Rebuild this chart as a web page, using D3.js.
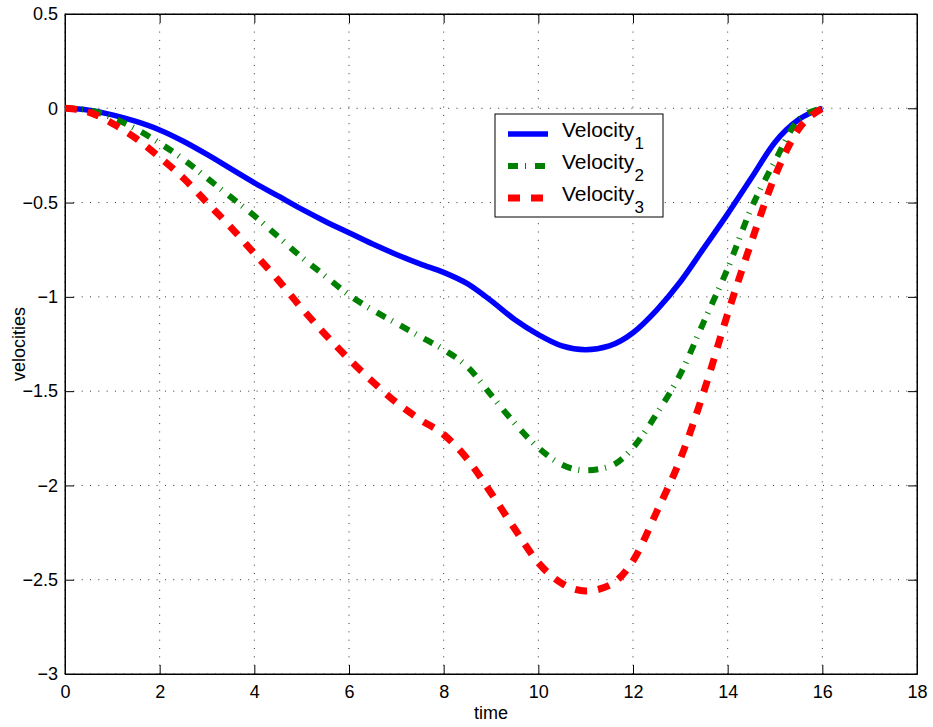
<!DOCTYPE html>
<html>

<head>
  <meta charset="utf-8">
  <title>velocities</title>
  <style>
  body {
    margin: 0px;
    background: #fff;
  }
  svg {
    font-family: "Liberation Sans", Arial, Helvetica, sans-serif;
  }
  .grid line {
    stroke: #333;
    stroke-width: 1;
    stroke-dasharray: 1, 7.33;
  }
  .axis path, .axis line {
    stroke: #000;
  }
  .axis text {
    font-size: 18px;
    fill: #000;
  }
  </style>
</head>

<body>
  <svg width="933" height="727"></svg>
  <script src="https://d3js.org/d3.v7.min.js"></script>
  <script>
  var time = [0, 0.5, 1, 1.5, 2, 2.5, 3, 3.5, 4, 4.5, 5, 5.5, 6, 6.5, 7, 7.5, 8,
    8.5, 9, 9.5, 10, 10.5, 11, 11.5, 12, 12.5, 13, 13.5, 14, 14.5, 15, 15.5, 16];

  var velocity1 = [0, -0.01, -0.035, -0.07, -0.115, -0.175, -0.245, -0.32, -0.395, -0.465, -0.535,
    -0.60, -0.66, -0.72, -0.775, -0.825, -0.87, -0.93, -1.02, -1.12, -1.20, -1.26, -1.28,
    -1.26, -1.19, -1.07, -0.92, -0.74, -0.56, -0.37, -0.18, -0.06, 0];

  var velocity2 = [0, -0.01, -0.05, -0.11, -0.185, -0.27, -0.37, -0.47, -0.57, -0.68, -0.79,
    -0.89, -0.99, -1.07, -1.14, -1.21, -1.28, -1.37, -1.52, -1.67, -1.80, -1.89, -1.92,
    -1.90, -1.80, -1.62, -1.41, -1.13, -0.85, -0.53, -0.28, -0.06, 0];

  var velocity3 = [0, -0.02, -0.08, -0.16, -0.26, -0.37, -0.50, -0.63, -0.77, -0.91, -1.06,
    -1.20, -1.33, -1.45, -1.56, -1.65, -1.73, -1.86, -2.04, -2.23, -2.41, -2.52, -2.56,
    -2.53, -2.40, -2.14, -1.86, -1.50, -1.09, -0.71, -0.36, -0.11, 0];

  var xTicks = [0, 2, 4, 6, 8, 10, 12, 14, 16, 18];
  var yTicks = [0.5, 0, -0.5, -1, -1.5, -2, -2.5, -3];

  var series = [
    {name: "Velocity", sub: "1", values: velocity1, color: "#0000ff", width: 5.5, dash: null},
    {name: "Velocity", sub: "2", values: velocity2, color: "#008000", width: 6, dash: "10,7,1,9"},
    {name: "Velocity", sub: "3", values: velocity3, color: "#ff0000", width: 7, dash: "12,11"}
  ];

  function draw() {
    var svg = d3.select("svg");
    var pLeft = 65, pTop = 14, pRight = 917, pBottom = 674;

    var x = d3.scaleLinear().domain([0, 18]).range([pLeft, pRight]);
    var y = d3.scaleLinear().domain([-3, 0.5]).range([pBottom, pTop]);

    // dotted grid
    var grid = svg.append("g").attr("class", "grid");
    grid.selectAll(".gx")
      .data(xTicks)
      .enter()
      .append("line")
      .attr("x1", function(d) { return x(d); })
      .attr("x2", function(d) { return x(d); })
      .attr("y1", pBottom)
      .attr("y2", pTop);
    grid.selectAll(".gy")
      .data(yTicks)
      .enter()
      .append("line")
      .attr("x1", pLeft)
      .attr("x2", pRight)
      .attr("y1", function(d) { return y(d); })
      .attr("y2", function(d) { return y(d); });

    // axes with ticks pointing inward on all four sides
    var fmt = d3.format("");
    svg.append("g").attr("class", "axis")
      .attr("transform", "translate(0," + pBottom + ")")
      .call(d3.axisBottom(x).tickValues(xTicks).tickSizeInner(-9).tickSizeOuter(0).tickPadding(11).tickFormat(fmt));
    svg.append("g").attr("class", "axis")
      .attr("transform", "translate(0," + pTop + ")")
      .call(d3.axisTop(x).tickValues(xTicks).tickSizeInner(-9).tickSizeOuter(0).tickFormat(""));
    svg.append("g").attr("class", "axis")
      .attr("transform", "translate(" + pLeft + ",0)")
      .call(d3.axisLeft(y).tickValues(yTicks).tickSizeInner(-9).tickSizeOuter(0).tickPadding(7).tickFormat(fmt));
    svg.append("g").attr("class", "axis")
      .attr("transform", "translate(" + pRight + ",0)")
      .call(d3.axisRight(y).tickValues(yTicks).tickSizeInner(-9).tickSizeOuter(0).tickFormat(""));

    svg.append("rect")
      .attr("x", pLeft)
      .attr("y", pTop)
      .attr("width", pRight - pLeft)
      .attr("height", pBottom - pTop)
      .attr("fill", "none")
      .attr("stroke", "#000");

    // axis titles
    svg.append("text")
      .attr("x", (pLeft + pRight) / 2)
      .attr("y", 719)
      .style("text-anchor", "middle")
      .attr("font-size", "18px")
      .text("time");
    svg.append("text")
      .attr("transform", "translate(25," + (pTop + pBottom) / 2 + ") rotate(-90)")
      .style("text-anchor", "middle")
      .attr("font-size", "18px")
      .text("velocities");

    // curves
    svg.append("clipPath").attr("id", "clip")
      .append("rect")
      .attr("x", pLeft).attr("y", pTop)
      .attr("width", pRight - pLeft).attr("height", pBottom - pTop);

    var line = d3.line()
      .x(function(d, i) { return x(time[i]); })
      .y(function(d) { return y(d); })
      .curve(d3.curveMonotoneX);

    svg.append("g").attr("clip-path", "url(#clip)")
      .selectAll(".curve")
      .data(series)
      .enter()
      .append("path")
      .attr("class", "curve")
      .attr("fill", "none")
      .attr("stroke", function(d) { return d.color; })
      .attr("stroke-width", function(d) { return d.width; })
      .attr("stroke-dasharray", function(d) { return d.dash; })
      .attr("stroke-linejoin", "round")
      .attr("d", function(d) { return line(d.values); });

    // legend
    var legend = svg.append("g").attr("transform", "translate(495,114)");
    legend.append("rect")
      .attr("width", 168)
      .attr("height", 103)
      .attr("fill", "#fff")
      .attr("stroke", "#000");

    var rows = legend.selectAll(".row")
      .data(series)
      .enter()
      .append("g")
      .attr("class", "row")
      .attr("transform", function(d, i) { return "translate(0," + (20 + i * 32) + ")"; });

    rows.append("line")
      .attr("x1", 13)
      .attr("x2", 53)
      .attr("y1", 0)
      .attr("y2", 0)
      .attr("stroke", function(d) { return d.color; })
      .attr("stroke-width", function(d) { return d.width; })
      .attr("stroke-dasharray", function(d) { return d.dash; });

    var label = rows.append("text")
      .attr("x", 67)
      .attr("y", 3)
      .attr("font-size", "21px");
    label.append("tspan").text(function(d) { return d.name; });
    label.append("tspan")
      .attr("dy", 12)
      .attr("font-size", "17px")
      .text(function(d) { return d.sub; });
  }

  draw();

  </script>
</body>

</html>
